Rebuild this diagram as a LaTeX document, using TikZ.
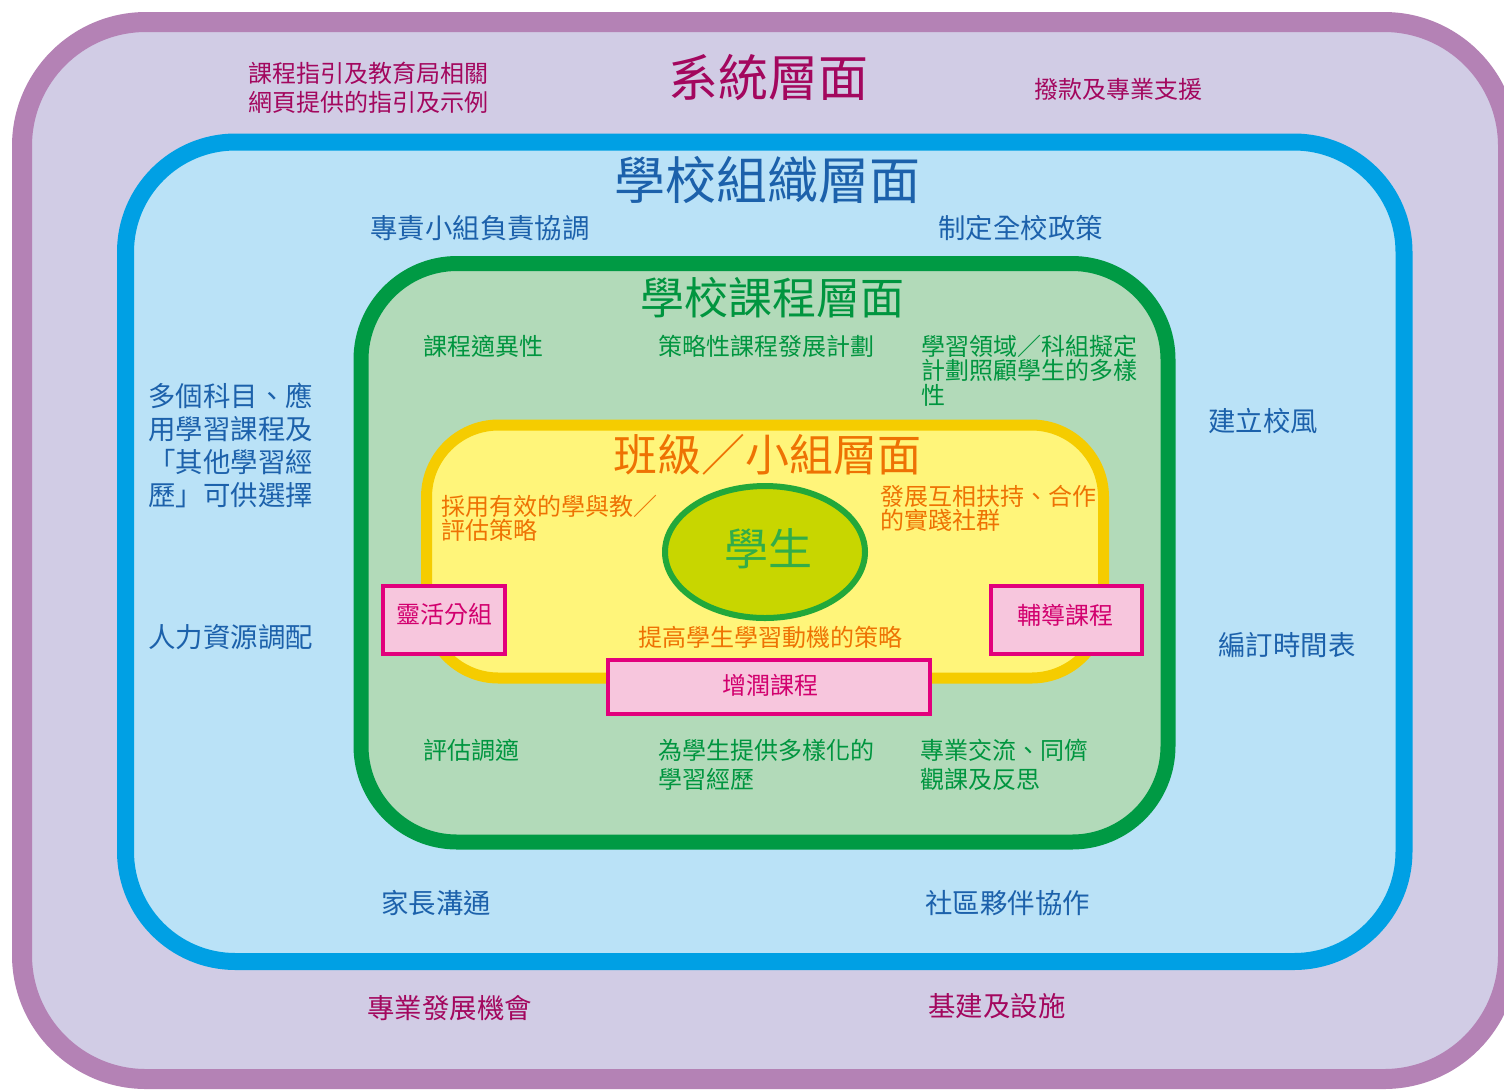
\documentclass[tikz,border=0pt]{standalone}
\usepackage{fontspec}
\newfontfamily\tc{Noto Sans CJK TC}
\usetikzlibrary{shapes.geometric}
\definecolor{purpB}{HTML}{B482B5}
\definecolor{purpF}{HTML}{D1CCE5}
\definecolor{blueB}{HTML}{00A0E4}
\definecolor{blueF}{HTML}{BAE2F7}
\definecolor{greenB}{HTML}{009A44}
\definecolor{greenF}{HTML}{B2DAB9}
\definecolor{yelB}{HTML}{F5CC00}
\definecolor{yelF}{HTML}{FFF57A}
\definecolor{ellF}{HTML}{C8D600}
\definecolor{ellB}{HTML}{22A83A}
\definecolor{pinkF}{HTML}{F7C6DD}
\definecolor{pinkB}{HTML}{E2007C}
\definecolor{sysT}{HTML}{A3075E}
\definecolor{orgT}{HTML}{1C61AB}
\definecolor{curT}{HTML}{00953F}
\definecolor{clsT}{HTML}{EE7203}
\definecolor{pinkT}{HTML}{D2006E}
\definecolor{stuT}{HTML}{33AD48}
\newcommand\fsz[2]{\fontsize{#1}{#2}\selectfont}
\tikzset{
  lbl/.style={inner sep=0pt, anchor=west, align=left},
  ttl/.style={inner sep=0pt, anchor=center},
  sysx/.style={text=sysT},
  orgx/.style={text=orgT},
  curx/.style={text=curT},
  clsx/.style={text=clsT},
  pbox/.style={draw=pinkB, fill=pinkF, line width=2pt},
  small/.style={font=\tc\fsz{12pt}{12pt}},
  mid/.style={font=\tc\fsz{13.7pt}{16.5pt}},
}
\begin{document}
\begin{tikzpicture}[x=0.5pt,y=-0.5pt]
\useasboundingbox (0,0) rectangle (1504,1089);
\fill[white] (0,0) rectangle (1504,1089);
% system level
\draw[draw=purpB, fill=purpF, line width=10pt, rounded corners=62pt] (22,22) rectangle (1508,1079);
% school organisation level
\draw[draw=blueB, fill=blueF, line width=8.5pt, rounded corners=55pt] (125.5,142) rectangle (1404,961.5);
% school curriculum level
\draw[draw=greenB, fill=greenF, line width=7.5pt, rounded corners=48pt] (361,263.5) rectangle (1168,842);
% class level
\draw[draw=yelB, fill=yelF, line width=5.5pt, rounded corners=36pt] (426.5,425) rectangle (1103.5,678);
% student
\node[ellipse, draw=ellB, fill=ellF, line width=3pt, minimum width=100pt, minimum height=66pt, inner sep=0pt] (stu) at (765,552) {};
\node[ttl, text=stuT, font=\tc\fsz{22pt}{22pt}] (stut) at (768,549) {學生};
% pink boxes
\node[pbox, minimum width=61pt, minimum height=34.25pt, inner sep=0pt] (b1) at (443.5,619.75) {};
\node[inner sep=0pt, text=pinkT, font=\tc\fsz{12pt}{12pt}] (b1t) at (444,614) {靈活分組};
\node[pbox, minimum width=75.5pt, minimum height=34.25pt, inner sep=0pt] (b2) at (1066,619.75) {};
\node[inner sep=0pt, text=pinkT, font=\tc\fsz{12pt}{12pt}] (b2t) at (1065,615) {輔導課程};
\node[pbox, minimum width=161.25pt, minimum height=27pt, inner sep=0pt] (b3) at (768.75,687) {};
\node[inner sep=0pt, text=pinkT, font=\tc\fsz{12pt}{12pt}] (b3t) at (770,685) {增潤課程};
% system texts
\node[ttl, sysx, font=\tc\fsz{25pt}{25pt}] (t1) at (768,77) {系統層面};
\node[lbl, sysx, font=\tc\fsz{12pt}{14.5pt}] (s1) at (248,87.5) {課程指引及教育局相關\\網頁提供的指引及示例};
\node[lbl, sysx, small] (s2) at (1034,89) {撥款及專業支援};
\node[lbl, sysx, mid] (s3) at (367,1008) {專業發展機會};
\node[lbl, sysx, mid] (s4) at (928,1006) {基建及設施};
% organisation texts
\node[ttl, orgx, font=\tc\fsz{25.5pt}{25.5pt}] (t2) at (767,180) {學校組織層面};
\node[lbl, orgx, mid] (o1) at (370,228) {專責小組負責協調};
\node[lbl, orgx, mid] (o2) at (938,228) {制定全校政策};
\node[lbl, orgx, mid] (o3) at (148,445.5) {多個科目、應\\用學習課程及\\「其他學習經\\歷」可供選擇};
\node[lbl, orgx, mid] (o4) at (148,637) {人力資源調配};
\node[lbl, orgx, mid] (o5) at (1208,421) {建立校風};
\node[lbl, orgx, mid] (o6) at (1218,645) {編訂時間表};
\node[lbl, orgx, mid] (o7) at (381,903) {家長溝通};
\node[lbl, orgx, mid] (o8) at (925,903) {社區夥伴協作};
% curriculum texts
\node[ttl, curx, font=\tc\fsz{22pt}{22pt}] (t3) at (772,298) {學校課程層面};
\node[lbl, curx, small] (c1) at (423,346) {課程適異性};
\node[lbl, curx, small] (c2) at (658,346) {策略性課程發展計劃};
\node[lbl, curx, font=\tc\fsz{12pt}{12.25pt}] (c3) at (921,370.5) {學習領域／科組擬定\\計劃照顧學生的多樣\\性};
\node[lbl, curx, small] (c4) at (423,750) {評估調適};
\node[lbl, curx, font=\tc\fsz{12pt}{14.5pt}] (c5) at (658,764.5) {為學生提供多樣化的\\學習經歷};
\node[lbl, curx, font=\tc\fsz{12pt}{14.5pt}] (c6) at (920,764.5) {專業交流、同儕\\觀課及反思};
% class texts
\node[ttl, clsx, font=\tc\fsz{22pt}{22pt}] (t4) at (767,455) {班級／小組層面};
\node[lbl, clsx, font=\tc\fsz{12pt}{12pt}] (k1) at (441,518) {採用有效的學與教／\\評估策略};
\node[lbl, clsx, font=\tc\fsz{12pt}{12pt}] (k2) at (880,508) {發展互相扶持、合作\\的實踐社群};
\node[lbl, clsx, small] (k3) at (638,637) {提高學生學習動機的策略};
\end{tikzpicture}
\end{document}
